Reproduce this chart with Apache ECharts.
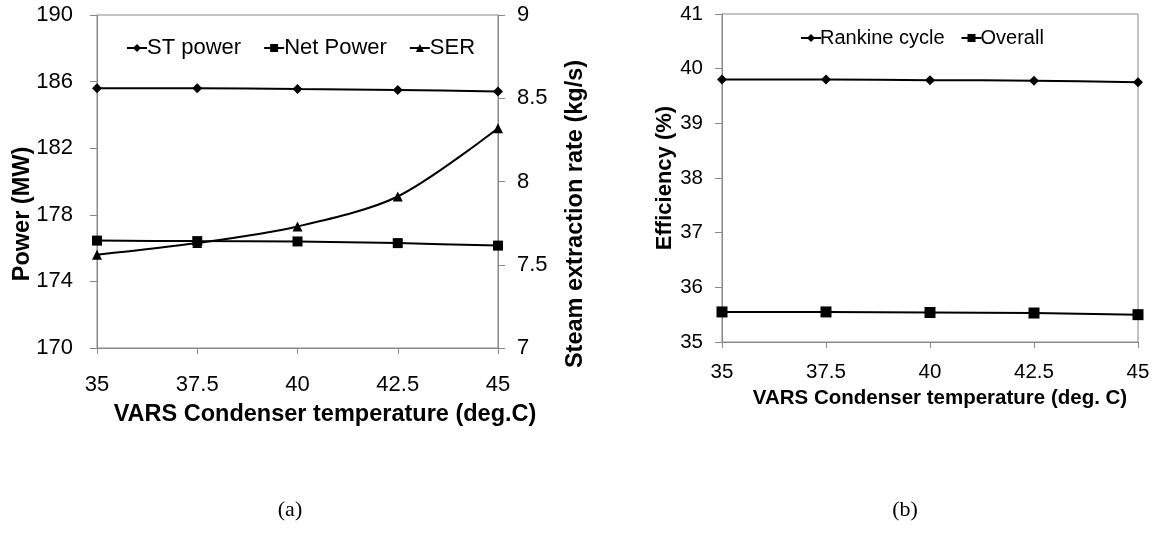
<!DOCTYPE html>
<html><head><meta charset="utf-8">
<script src="https://cdn.jsdelivr.net/npm/echarts@6/dist/echarts.min.js"></script>
<style>html,body{margin:0;padding:0;background:#fff}#c{width:1157px;height:538px}</style>
</head><body><div id="c"></div>
<script>
const temps = [35, 37.5, 40, 42.5, 45];
const stPower = [185.6, 185.6, 185.55, 185.5, 185.4];
const netPower = [176.45, 176.42, 176.4, 176.3, 176.15];
const ser = [7.56, 7.63, 7.73, 7.91, 8.32];
const rankine = [39.8, 39.8, 39.79, 39.78, 39.75];
const overall = [35.55, 35.55, 35.54, 35.53, 35.5];
const legendA = ['ST power', 'Net Power', 'SER'];
const legendB = ['Rankine cycle', 'Overall'];
const xTitleA = 'VARS Condenser temperature (deg.C)';
const xTitleB = 'VARS Condenser temperature (deg. C)';
const yTitleA = 'Power (MW)';
const yTitleA2 = 'Steam extraction rate (kg/s)';
const yTitleB = 'Efficiency (%)';
const panelLabels = ['(a)', '(b)'];

const FONT = '"Liberation Sans", Arial, sans-serif';
const axisCol = '#888';
const pairs = (ys) => temps.map((t,i)=>[t, ys[i]]);

function xAxis(gi, fs, margin){
  return {type:'value', gridIndex:gi, min:35, max:45, interval:2.5,
    axisLine:{show:true, lineStyle:{color:axisCol}},
    axisTick:{show:true, length:6, lineStyle:{color:axisCol}},
    splitLine:{show:false},
    axisLabel:{margin:margin, color:'#000', fontSize:fs, fontFamily:FONT}};
}
function yAxis(gi, pos, min, max, iv, fs, margin){
  return {type:'value', gridIndex:gi, position:pos, min:min, max:max, interval:iv,
    axisLine:{show:true, lineStyle:{color:axisCol}},
    axisTick:{show:true, length:7, lineStyle:{color:axisCol}},
    splitLine:{show:false},
    axisLabel:{margin:margin, color:'#000', fontSize:fs, fontFamily:FONT}};
}
const lineS = {color:'#000', width:2};
function mk(name, xi, yi, data, sym, size){
  return {name:name, type:'line', xAxisIndex:xi, yAxisIndex:yi, data:pairs(data),
    symbol:sym, symbolSize:size, smooth:0.3, lineStyle:lineS,
    itemStyle:{color:'#000'}, z:3};
}
function title(text, x, y, fs, rot){
  return {type:'text', x:x, y:y, rotation:rot||0,
    style:{text:text, font:'bold '+fs+'px '+FONT, fill:'#000', align:'center', verticalAlign:'middle'}};
}
const capFont = '22px "Liberation Serif", "Times New Roman", serif';
const chart = echarts.init(document.getElementById('c'), null, {renderer:'canvas'});
chart.setOption({
  animation:false,
  backgroundColor:'#fff',
  grid:[
    {left:97, right:659, top:15, bottom:190, show:true, borderColor:axisCol, borderWidth:1},
    {left:722, right:19, top:14, bottom:196, show:true, borderColor:axisCol, borderWidth:1}
  ],
  xAxis:[xAxis(0, 22, 26), xAxis(1, 20.5, 20)],
  yAxis:[
    yAxis(0,'left',170,190,4,22,24),
    yAxis(0,'right',7,9,0.5,22,19),
    yAxis(1,'left',35,41,1,20.5,19)
  ],
  legend:[
    {data:legendA, left:121, top:32, itemGap:22, itemWidth:20, itemHeight:10,
     textStyle:{color:'#000', fontSize:22, fontFamily:FONT, padding:[0,0,0,-5]}},
    {data:legendB, left:795, top:23, itemGap:16, itemWidth:20, itemHeight:10,
     textStyle:{color:'#000', fontSize:20, fontFamily:FONT, padding:[0,0,0,-6]}}
  ],
  series:[
    mk(legendA[0],0,0,stPower,'diamond',10),
    mk(legendA[1],0,0,netPower,'rect',10),
    mk(legendA[2],0,1,ser,'triangle',10),
    mk(legendB[0],1,2,rankine,'diamond',10),
    mk(legendB[1],1,2,overall,'rect',11)
  ],
  graphic:[
    title(xTitleA, 325, 415, 23.5),
    title(xTitleB, 940, 398, 20.5),
    title(yTitleA, 23, 214, 23.5, Math.PI/2),
    title(yTitleA2, 576, 214, 23.5, Math.PI/2),
    title(yTitleB, 665, 178, 22, Math.PI/2),
    {type:'text', x:290, y:510, style:{text:panelLabels[0], font:capFont, fill:'#000', align:'center', verticalAlign:'middle'}},
    {type:'text', x:905, y:510, style:{text:panelLabels[1], font:capFont, fill:'#000', align:'center', verticalAlign:'middle'}}
  ]
});
</script></body></html>
